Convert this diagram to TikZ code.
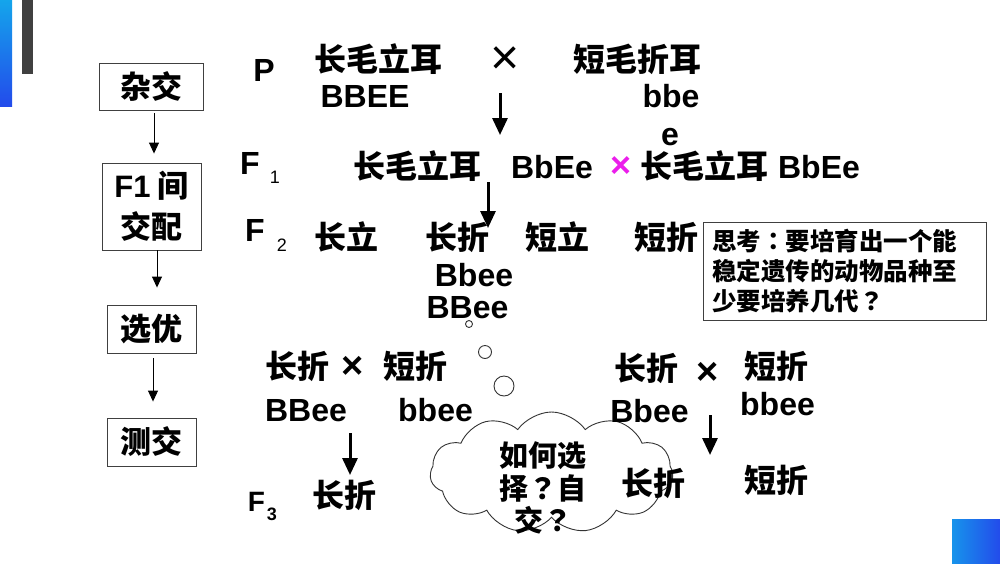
\documentclass[tikz,border=0pt]{standalone}
\usepackage{fontspec}
\setmainfont{Liberation Sans}
\newfontfamily\cjk{Noto Sans CJK SC}
\newfontfamily\cjkp{Noto Sans CJK TC}
\newfontfamily\lat{Liberation Sans}
\newcommand{\qq}{{\cjkp\bfseries ？}}
\newcommand{\cc}{{\cjkp\bfseries ：}}
\usetikzlibrary{arrows.meta,shapes.symbols}
\definecolor{mag}{RGB}{235,30,235}
\definecolor{blueA}{RGB}{20,165,235}
\definecolor{blueB}{RGB}{35,75,235}
\definecolor{barg}{RGB}{64,64,64}
\tikzset{
  zh/.style={font=\cjk\bfseries\fontsize{32}{38}\selectfont, inner sep=0pt},
  en/.style={font=\lat\bfseries\fontsize{32}{38}\selectfont, inner sep=0pt},
  subs/.style={font=\lat\fontsize{18}{20}\selectfont, inner sep=0pt},
  lbox/.style={draw=black!75, line width=0.9pt, font=\cjk\bfseries\fontsize{31}{40}\selectfont, inner sep=0pt, align=center},
  bigarr/.style={-{Triangle[length=17pt,width=15pt]}, line width=3pt},
  thinarr/.style={-{Triangle[length=11pt,width=10pt]}, line width=0.9pt},
  bubble/.style={draw=black!80, line width=0.9pt},
}
\begin{document}
\begin{tikzpicture}[x=1pt,y=-1pt]
\useasboundingbox (0,0) rectangle (1000,563);
\fill[white] (0,0) rectangle (1000,563);
% decorations
\shade[top color=blueA, bottom color=blueB] (0,0) rectangle (12,106);
\fill[barg] (22,0) rectangle (33,74);
\shade[left color=blueA!80!blueB, right color=blueB] (952,519) rectangle (1000,563);

% left flow boxes
\node[lbox, minimum width=104, minimum height=47] (zajiao) at (151,86.5) {杂交};
\node[lbox, minimum width=99, minimum height=87, font=\cjk\bfseries\fontsize{31}{41}\selectfont] (f1box) at (151.5,206.5) {{\lat\bfseries F1} 间\\交配};
\node[lbox, minimum width=89, minimum height=48] (xuanyou) at (151.5,329) {选优};
\node[lbox, minimum width=89, minimum height=48] (cejiao) at (151.5,442) {测交};
\draw[thinarr] ([xshift=3pt,yshift=-3pt]zajiao.south) -- ([xshift=2.5pt,yshift=9pt]f1box.north);
\draw[thinarr] ([xshift=5.5pt]f1box.south) -- ([xshift=5.5pt,yshift=17pt]xuanyou.north);
\draw[thinarr] ([xshift=1.5pt,yshift=-5pt]xuanyou.south) -- ([xshift=1.5pt,yshift=16pt]cejiao.north);

% P generation
\node[en] (P) at (264,70) {P};
\node[zh] (p1) at (378,59) {长毛立耳};
\node[en] (p1g) at (365,96.5) {BBEE};
\node[font=\lat\fontsize{50}{50}\selectfont, inner sep=0pt] (px) at (505,61) {×};
\node[zh] (p2) at (637,59) {短毛折耳};
\node[en] (p2g) at (671,96) {bbe};
\node[en] (p2e) at (670,137) {e};
\coordinate (a1s) at (500,93);
\coordinate (a1e) at (500,135);
\draw[bigarr] (a1s) -- (a1e);

% F1
\node[en] (F1) at (250,163.5) {F};
\node[subs] (F1s) at (275,177) {1};
\node[zh] (f1a) at (417,166) {长毛立耳};
\node[en] (f1ag) at (552,167) {BbEe};
\node[font=\lat\bfseries\fontsize{36}{36}\selectfont, inner sep=0pt, text=mag] (f1x) at (621,167) {×};
\node[zh] (f1b) at (704,166) {长毛立耳};
\node[en] (f1bg) at (819,167) {BbEe};
\coordinate (a2s) at (488,182);
\coordinate (a2e) at (488,228);
\draw[bigarr] (a2s) -- (a2e);

% F2
\node[en] (F2) at (255,230) {F};
\node[subs] (F2s) at (282,245) {2};
\node[zh] (f2a) at (346.5,237) {长立};
\node[zh] (f2b) at (457.5,237) {长折};
\node[zh] (f2c) at (557.5,237) {短立};
\node[zh] (f2d) at (666.5,237) {短折};
\node[en] (f2g1) at (474,275) {Bbee};
\node[en] (f2g2) at (467.5,308) {BBee};

% thinking box
\node[draw=black!75, line width=0.9pt, minimum width=283, minimum height=98, text width=265, inner xsep=9pt, inner ysep=0pt, align=left, font=\cjk\bfseries\fontsize{24.5}{30}\selectfont] (think) at (844.5,271) {思考\cc 要培育出一个能\\稳定遗传的动物品种至\\少要培养几代\qq};

% bubbles
\draw[bubble] (469,324) circle (3.5);
\draw[bubble] (485,352) circle (6.5);
\draw[bubble] (504,386) circle (10);

% cloud
\node[cloud, bubble, cloud puffs=11, cloud puff arc=110, aspect=2, minimum width=243, minimum height=121, inner sep=0pt] (cloud) at (551.5,472.5) {};
\node[font=\cjk\bfseries\fontsize{29}{32.5}\selectfont, inner sep=0pt, align=center] (cloudtext) at (543,488) {如何选\\择\qq 自\\交\qq};

% testcross left
\node[zh] (t1a) at (297.5,366) {长折};
\node[font=\lat\bfseries\fontsize{38}{38}\selectfont, inner sep=0pt] (t1x) at (352.5,367) {×};
\node[zh] (t1b) at (415,366) {短折};
\node[en] (t1ag) at (306,411) {BBee};
\node[en] (t1bg) at (435.5,410) {bbee};
\coordinate (a3s) at (350,433);
\coordinate (a3e) at (350,475);
\draw[bigarr] (a3s) -- (a3e);
\node[font=\lat\bfseries\fontsize{28}{30}\selectfont, inner sep=0pt] (F3) at (256.5,502) {F};
\node[font=\lat\bfseries\fontsize{18}{20}\selectfont, inner sep=0pt] (F3s) at (272,514) {3};
\node[zh] (f3a) at (344.5,495) {长折};

% testcross right
\node[zh] (t2a) at (646.5,368) {长折};
\node[font=\lat\bfseries\fontsize{38}{38}\selectfont, inner sep=0pt] (t2x) at (708,373) {×};
\node[zh] (t2b) at (776,366) {短折};
\node[en] (t2ag) at (649.5,411) {Bbee};
\node[en] (t2bg) at (777.5,404) {bbee};
\coordinate (a4s) at (710,415);
\coordinate (a4e) at (710,455);
\draw[bigarr] (a4s) -- (a4e);
\node[zh] (r1) at (653.5,483) {长折};
\node[zh] (r2) at (776.5,480) {短折};
\end{tikzpicture}
\end{document}
